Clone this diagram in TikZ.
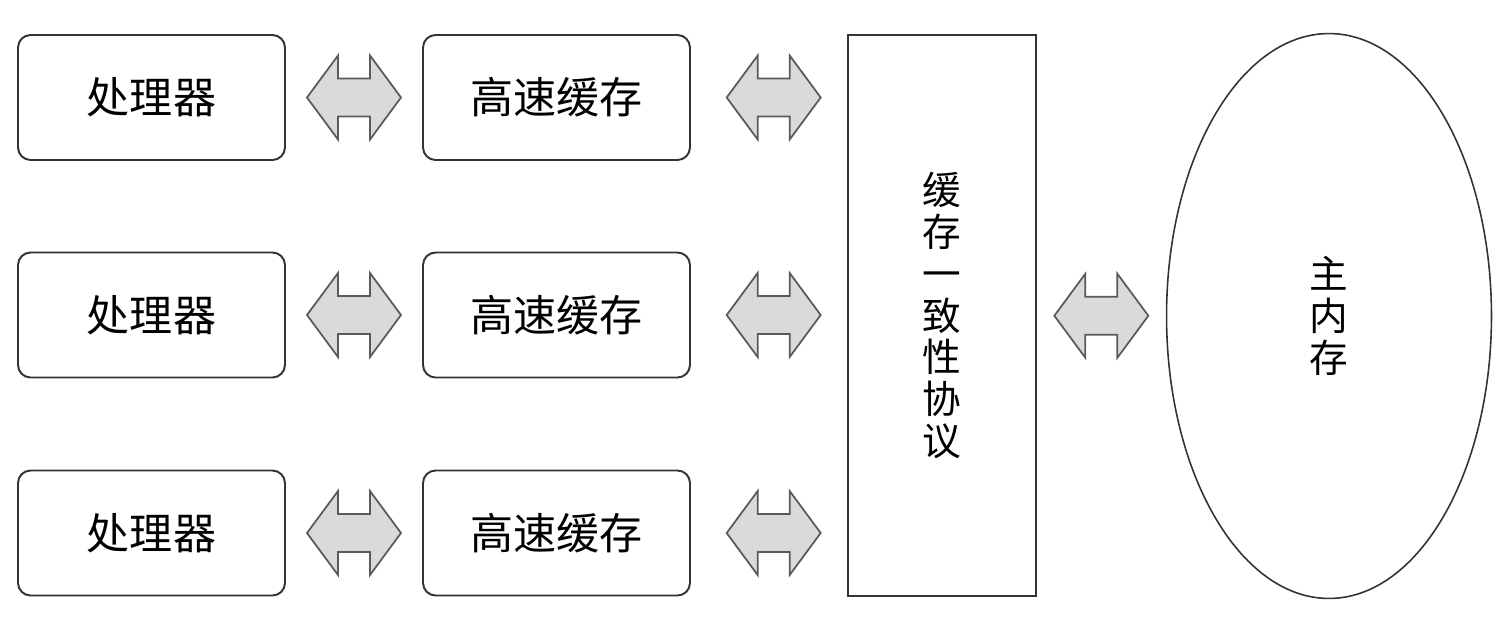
\documentclass[tikz,border=0pt]{standalone}
\usepackage{fontspec}
\usetikzlibrary{positioning,calc,shapes.geometric}
\newfontfamily\cjk{Noto Sans CJK SC}
\definecolor{EdgeGray}{HTML}{333333}
\definecolor{ArrowGray}{HTML}{5A5A5A}
\definecolor{ArrowFill}{HTML}{D9DADB}

\begin{document}
\begin{tikzpicture}[x=0.02cm,y=-0.02cm,font=\cjk\fontsize{22}{23.8}\selectfont,
  unit/.style={draw=EdgeGray,rounded corners=0.25cm,line width=1.1pt,minimum width=5.34cm,minimum height=2.5cm,inner sep=0pt,font=\cjk\fontsize{24.5}{26}\selectfont},
  dblarrow/.pic={\draw[ArrowGray,fill=ArrowFill,line width=1pt,line join=miter]
    (-47,0)--(-16,-42)--(-16,-19)--(16,-19)--(16,-42)--(47,0)--(16,42)--(16,19)--(-16,19)--(-16,42)--cycle;}]
\useasboundingbox (0,0) rectangle (1508,640);
% processors and caches
\node[unit] (p1) at (151.5,97.5) {处理器};
\node[unit] (p2) at (151.5,315) {处理器};
\node[unit] (p3) at (151.5,533) {处理器};
\node[unit] (c1) at (556.5,97.5) {高速缓存};
\node[unit] (c2) at (556.5,315) {高速缓存};
\node[unit] (c3) at (556.5,533) {高速缓存};
% protocol and memory
\node[draw=EdgeGray,line width=1.1pt,minimum width=3.76cm,minimum height=11.22cm,align=center] (coh) at (942,315.5) {缓\\存\\一\\致\\性\\协\\议};
\node[ellipse,draw=EdgeGray,line width=.9pt,minimum width=6.5cm,minimum height=11.3cm,inner sep=0pt,align=center] (mem) at (1329,316) {主\\内\\存};
% links
\foreach \r in {1,2,3} {
  \path ($(p\r.east)!.5!(c\r.west)$) pic {dblarrow};
  \path ($(c\r.east)!.53!(coh.west |- c\r.east)$) pic {dblarrow};
}
\path ($(coh.east)!.5!(mem.west)$) pic {dblarrow};
\end{tikzpicture}
\end{document}
